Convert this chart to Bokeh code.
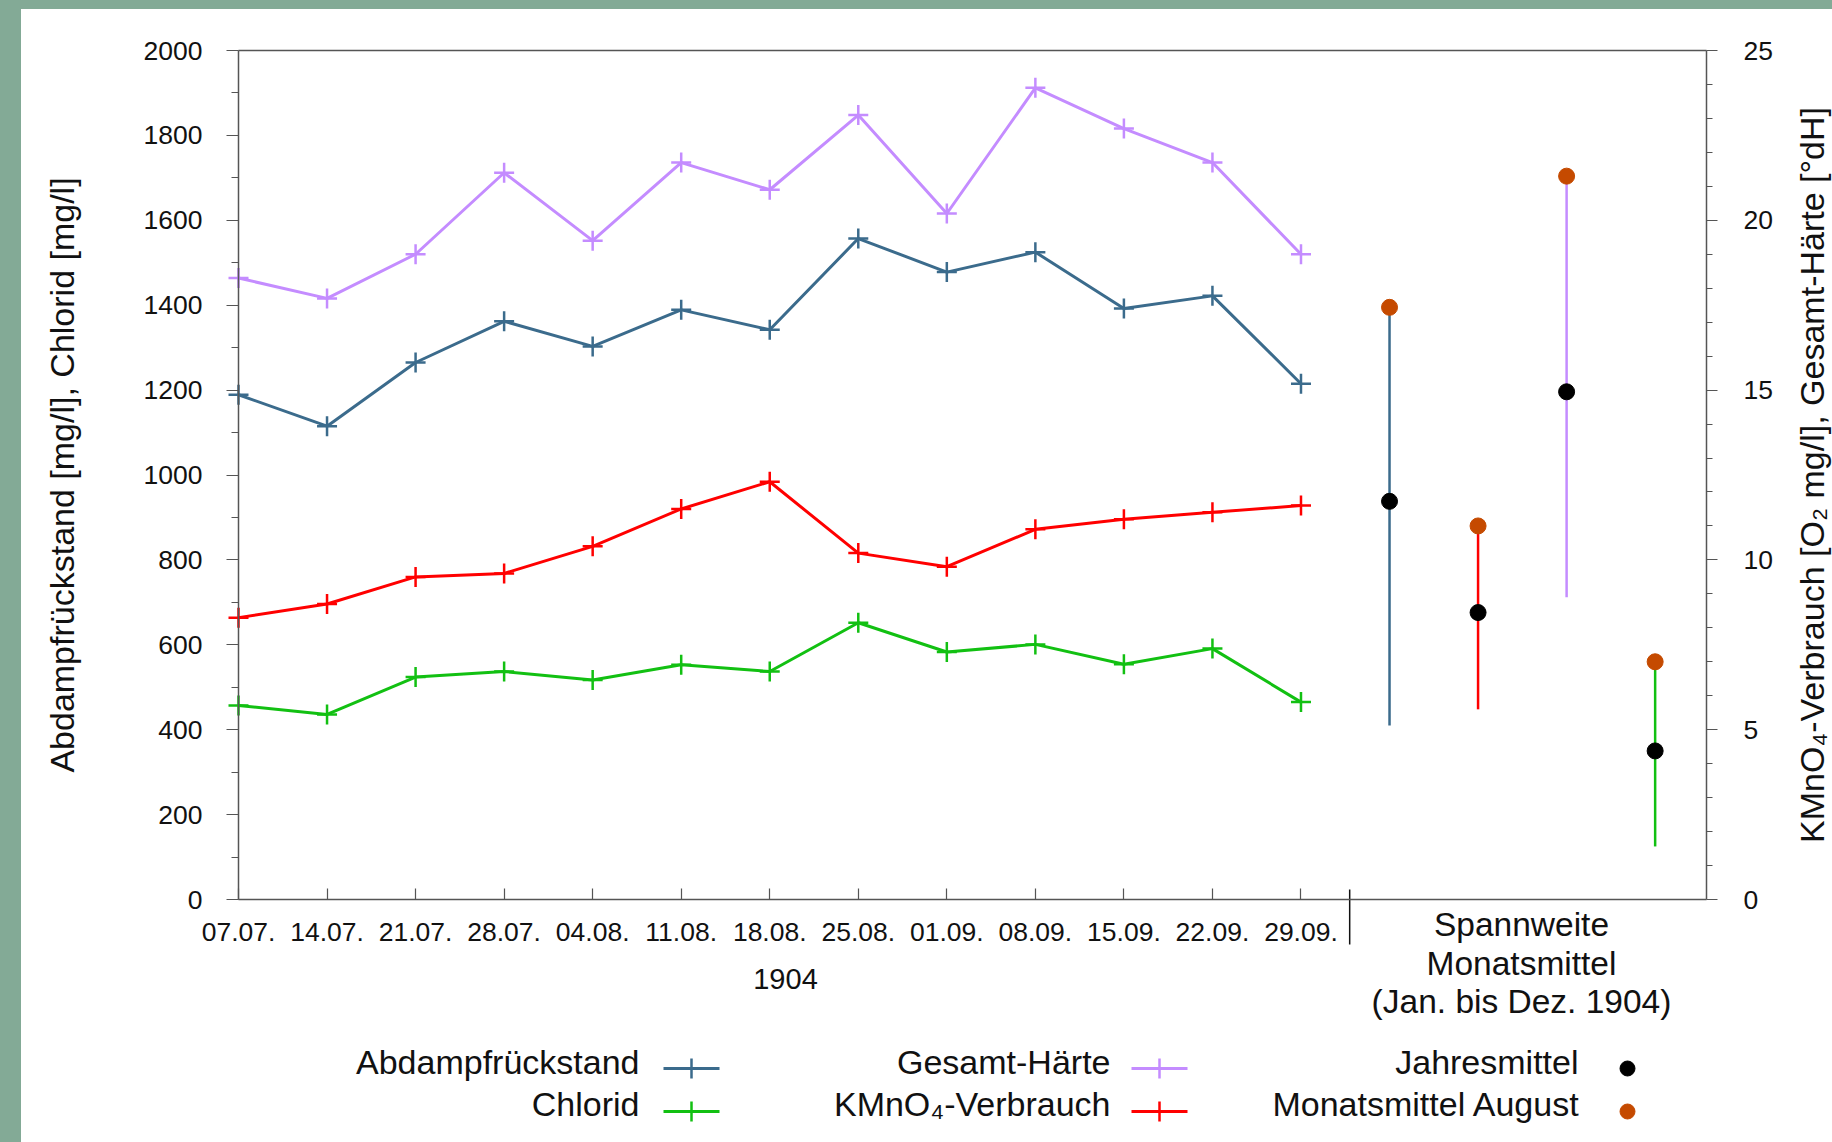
import math

from bokeh.core.properties import value
from bokeh.embed import file_html
from bokeh.layouts import column, row
from bokeh.models import Div, FixedTicker, LinearAxis, Range1d
from bokeh.plotting import figure
from bokeh.resources import INLINE

# ---- weekly measurements, 1904 -------------------------------------------
dates = ["07.07.", "14.07.", "21.07.", "28.07.", "04.08.", "11.08.", "18.08.",
         "25.08.", "01.09.", "08.09.", "15.09.", "22.09.", "29.09."]
abdampf = [1189, 1115, 1265, 1362, 1303, 1389, 1342, 1557, 1478, 1525, 1392, 1422, 1215]   # mg/l
chlorid = [457, 436, 524, 537, 517, 553, 537, 652, 583, 601, 554, 591, 465]               # mg/l
haerte = [18.3, 17.7, 19.0, 21.4, 19.4, 21.7, 20.9, 23.1, 20.2, 23.9, 22.7, 21.7, 19.0]   # °dH
kmno4 = [8.3, 8.7, 9.5, 9.6, 10.4, 11.5, 12.3, 10.2, 9.8, 10.9, 11.2, 11.4, 11.6]          # mg/l O2

# ---- range of monthly means (Jan.-Dez. 1904) --------------------------------
range_names = ["Abdampfrückstand", "KMnO₄-Verbrauch", "Gesamt-Härte", "Chlorid"]
range_axis = ["left", "right", "right", "left"]
range_low = [410, 5.6, 8.9, 125]
range_high = [1395, 11.0, 21.3, 560]
jahresmittel = [938, 8.45, 14.95, 350]
monatsmittel_august = [1395, 11.0, 21.3, 560]

left_ticks = list(range(0, 2001, 200))
right_ticks = [0, 5, 10, 15, 20, 25]

# ---- styling ---------------------------------------------------------------
GREEN_BG = "#83AA96"
C_ABD = "#3B6B8C"
C_CHL = "#12C012"
C_HAE = "#C48CFF"
C_KMN = "#FF0000"
C_AUG = "#C54A00"
AX = "#555555"
TXT = "#111111"
FONT = "Liberation Sans"

# plot area geometry (page pixels): x axis 0 .. X_END, y axis 0 .. 2000
X_END = 16.58
AREA_L, AREA_R, AREA_T, AREA_B = 238, 1706, 50, 899
PAGE_L, PAGE_R, PAGE_T, PAGE_B = 21, 1832, 9, 1142
PX = (AREA_R - AREA_L) / X_END
PY = (AREA_B - AREA_T) / 2000.0
R_SCALE = 2000.0 / 25.0


def dx(page_x):
    return (page_x - AREA_L) / PX


def dy(page_y):
    return (AREA_B - page_y) / PY


xs = list(range(len(dates)))
xr = [len(dates) + i for i in range(len(range_names))]

p = figure(width=PAGE_R - PAGE_L, height=PAGE_B - PAGE_T, output_backend="svg",
           toolbar_location=None, min_border=0,
           x_range=Range1d(dx(PAGE_L), dx(PAGE_R)), y_range=Range1d(dy(PAGE_B), dy(PAGE_T)),
           x_axis_type=None, y_axis_type=None)
p.extra_y_ranges = {"right": Range1d(dy(PAGE_B) / R_SCALE, dy(PAGE_T) / R_SCALE)}
p.xgrid.visible = False
p.ygrid.visible = False
p.outline_line_color = None
p.background_fill_color = "white"
p.border_fill_color = "white"

# bottom axis: weekly dates with inward ticks
xaxis = LinearAxis(fixed_location=0, bounds=(0, X_END), ticker=FixedTicker(ticks=xs))
overrides = {}
for i, d in enumerate(dates):
    overrides[i] = d
    overrides[str(i)] = d
xaxis.major_label_overrides = overrides
xaxis.axis_line_color = AX
xaxis.axis_line_width = 1.5
xaxis.major_tick_line_color = AX
xaxis.major_tick_line_width = 1.2
xaxis.major_tick_in = 11
xaxis.major_tick_out = 0
xaxis.minor_tick_line_color = None
xaxis.major_label_standoff = 23
xaxis.major_label_text_font = FONT
xaxis.major_label_text_font_size = "26.5px"
xaxis.major_label_text_color = TXT
p.add_layout(xaxis, "below")

yaxis = LinearAxis(fixed_location=0, bounds=(0, 2000),
                   ticker=FixedTicker(ticks=left_ticks, minor_ticks=list(range(100, 2000, 200))))
yaxis.axis_line_color = AX
yaxis.axis_line_width = 1.5
yaxis.major_tick_line_color = AX
yaxis.minor_tick_line_color = AX
yaxis.major_tick_in = 0
yaxis.major_tick_out = 12
yaxis.minor_tick_in = 0
yaxis.minor_tick_out = 7
yaxis.major_label_standoff = 24
yaxis.major_label_text_font = FONT
yaxis.major_label_text_font_size = "26.5px"
yaxis.major_label_text_color = TXT
p.add_layout(yaxis, "left")

raxis = LinearAxis(y_range_name="right", fixed_location=X_END, bounds=(0, 25),
                   ticker=FixedTicker(ticks=right_ticks, minor_ticks=[v for v in range(1, 25) if v % 5]))
raxis.axis_line_color = AX
raxis.axis_line_width = 1.5
raxis.major_tick_line_color = AX
raxis.minor_tick_line_color = AX
raxis.major_tick_in = 0
raxis.major_tick_out = 11
raxis.minor_tick_in = 0
raxis.minor_tick_out = 6
raxis.major_label_standoff = 26
raxis.major_label_text_font = FONT
raxis.major_label_text_font_size = "26.5px"
raxis.major_label_text_color = TXT
p.add_layout(raxis, "right")

# top edge of the plot area and divider between weekly values and yearly ranges
p.segment(x0=[0], y0=[2000], x1=[X_END], y1=[2000], line_color=AX, line_width=1.5)
p.segment(x0=[12.55], y0=[dy(AREA_B - 10)], x1=[12.55], y1=[dy(AREA_B + 45)],
          line_color=TXT, line_width=1.5)

# weekly series
series = [
    (abdampf, C_ABD, "default"),
    (chlorid, C_CHL, "default"),
    (haerte, C_HAE, "right"),
    (kmno4, C_KMN, "right"),
]
for vals, col, rng in series:
    p.line(xs, vals, line_color=col, line_width=3, y_range_name=rng)
    p.scatter(xs, vals, marker="cross", size=20, line_color=col, line_width=2.5, y_range_name=rng)

# ranges of the monthly means with annual and August means
range_colors = [C_ABD, C_KMN, C_HAE, C_CHL]
for i in range(len(range_names)):
    rng = "default" if range_axis[i] == "left" else "right"
    p.segment(x0=[xr[i]], y0=[range_low[i]], x1=[xr[i]], y1=[range_high[i]],
              line_color=range_colors[i], line_width=2.5, y_range_name=rng)
    p.scatter([xr[i]], [monatsmittel_august[i]], marker="circle", size=16,
              fill_color=C_AUG, line_color=C_AUG, y_range_name=rng)
    p.scatter([xr[i]], [jahresmittel[i]], marker="circle", size=16,
              fill_color="black", line_color="black", y_range_name=rng)

# axis titles
mid_y = dy((AREA_T + AREA_B) / 2)
p.text(x=[dx(61)], y=[mid_y], text=["Abdampfrückstand [mg/l], Chlorid [mg/l]"], angle=math.pi / 2,
       text_align="center", text_baseline="alphabetic", text_font=value(FONT),
       text_font_size="34px", text_color=TXT)
p.text(x=[dx(1811)], y=[mid_y], text=["KMnO₄-Verbrauch [O₂ mg/l], Gesamt-Härte [°dH]"],
       angle=math.pi / 2, text_align="center", text_baseline="alphabetic",
       text_font=value(FONT), text_font_size="34px", text_color=TXT)

# captions under the x axis
p.text(x=[dx(785)], y=[dy(978)], text=["1904"], text_align="center", text_baseline="middle",
       text_font=value(FONT), text_font_size="29px", text_color=TXT)
p.text(x=[dx(1521)] * 3, y=[dy(924), dy(963), dy(1001)],
       text=["Spannweite", "Monatsmittel", "(Jan. bis Dez. 1904)"],
       text_align="center", text_baseline="middle",
       text_font=value(FONT), text_font_size="33.5px", text_color=TXT)

# legend
leg_text = ["Abdampfrückstand", "Chlorid", "Gesamt-Härte", "KMnO₄-Verbrauch",
            "Jahresmittel", "Monatsmittel August"]
leg_tx = [639, 639, 1110, 1110, 1578, 1580]
leg_ty = [1061, 1103, 1061, 1103, 1061, 1103]
p.text(x=[dx(v) for v in leg_tx], y=[dy(v) for v in leg_ty], text=leg_text,
       text_align="right", text_baseline="middle",
       text_font=value(FONT), text_font_size="34px", text_color=TXT)

line_items = [(691, 1068, C_ABD), (691, 1111, C_CHL), (1159, 1068, C_HAE), (1159, 1111, C_KMN)]
for cx, cy, col in line_items:
    p.segment(x0=[dx(cx - 28)], y0=[dy(cy)], x1=[dx(cx + 28)], y1=[dy(cy)],
              line_color=col, line_width=3)
    p.scatter([dx(cx)], [dy(cy)], marker="cross", size=20, line_color=col, line_width=2.5)
p.scatter([dx(1627)], [dy(1068)], marker="circle", size=15, fill_color="black", line_color="black")
p.scatter([dx(1627)], [dy(1111)], marker="circle", size=15, fill_color=C_AUG, line_color=C_AUG)

top_strip = Div(text="", width=1832, height=PAGE_T, margin=(0, 0, 0, 0),
                styles={"background-color": GREEN_BG})
left_strip = Div(text="", width=PAGE_L, height=PAGE_B - PAGE_T, margin=(0, 0, 0, 0),
                 styles={"background-color": GREEN_BG})

layout = column(top_strip, row(left_strip, p, spacing=0), spacing=0)

html = file_html(layout, INLINE, title="Wasseranalysen 1904")
open("out.html", "w").write(html)
